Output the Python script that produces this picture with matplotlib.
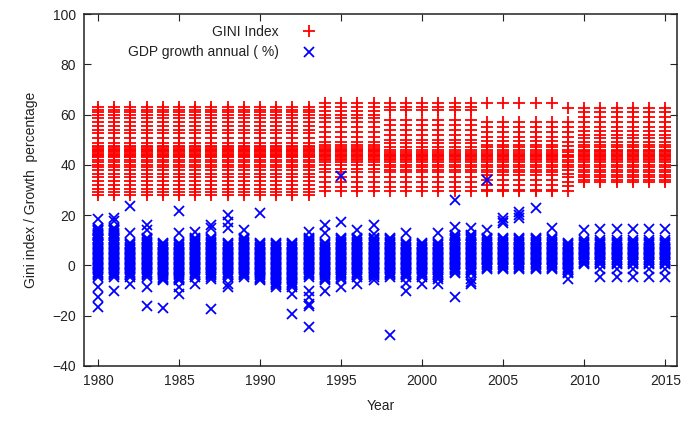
import matplotlib.pyplot as plt

plt.rcParams['font.family'] = ['Liberation Sans', 'DejaVu Sans']

years = list(range(1980, 2016))

# GINI index readings, grouped by periods whose country spread looks alike
gini_80s = [63, 62, 61, 60, 58.5, 57, 55.5, 54, 52.5, 50.5, 48.5, 47.5, 47,
            46.5, 46, 45.5, 45, 44.5, 44, 43.5, 43, 42, 41, 40, 39, 38, 36.5,
            35, 33.5, 32, 30.5, 29, 28]
gini_mid90s = [64.5, 63, 61.5, 60, 58.5, 57, 55, 53, 51, 49, 48, 47, 46.5,
               46, 45.5, 45, 44.5, 44, 43.5, 43, 42.5, 42, 41, 40, 38.5, 37,
               35, 33, 31, 29.5]
gini_late90s = [64.5, 63, 62, 58, 56, 54, 52, 50, 48.5, 47, 46, 45, 44.5, 44,
                43.5, 43, 42.5, 42, 41, 40, 39, 38, 37, 35, 33, 31, 29.5]
gini_2000s = [64.5, 57, 55, 53, 51, 49.5, 48, 47, 46, 45, 44.5, 44, 43.5, 43,
              42.5, 42, 41, 40, 39, 38, 37, 36, 34, 32, 30, 29.5]
gini_2009 = [62.5, 57, 55, 53, 51, 49, 47.5, 46, 45, 44, 43.5, 43, 42, 41, 40,
             39, 38, 36.5, 35, 33, 31.5, 29.5]
gini_2010s = [62.5, 61, 59, 57, 55, 53.5, 52, 50.5, 49, 48, 47, 46, 45.5, 45,
              44.5, 44, 43.5, 43, 42.5, 42, 41, 40, 39, 38, 37, 36, 35, 34, 33]

gini_by_year = ([gini_80s] * 14 + [gini_mid90s] * 4 + [gini_late90s] * 6 +
                [gini_2000s] * 5 + [gini_2009] + [gini_2010s] * 6)

# dense bulk of annual GDP growth (%) per year
band_a = [-4.5, -4, -3.5, -3, -2.5, -2, -1.5, -1, -0.5, 0, 0.5, 1, 1.5, 2,
          2.5, 3, 3.5, 4, 4.5, 5, 5.5, 6, 6.5, 7, 7.5, 8, 8.5, 9, 9.5, 10,
          10.5, 11, 11.5, 12, 12.5, 13, 13.5, 14, 14.5, 15]
band_b = [-4.5, -4, -3.5, -3, -2.5, -2, -1.5, -1, -0.5, 0, 0.5, 1, 1.5, 2,
          2.5, 3, 3.5, 4, 4.5, 5, 5.5, 6, 6.5, 7, 7.5, 8, 8.5, 9, 9.5, 10,
          10.5, 11]
band_c = [-4.5, -4, -3.5, -3, -2.5, -2, -1.5, -1, -0.5, 0, 0.5, 1, 1.5, 2,
          2.5, 3, 3.5, 4, 4.5, 5, 5.5, 6, 6.5, 7, 7.5, 8, 8.5, 9]
band_d = [-6, -5.5, -5, -4.5, -4, -3.5, -3, -2.5, -2, -1.5, -1, -0.5, 0,
          0.5, 1, 1.5, 2, 2.5, 3, 3.5, 4, 4.5, 5, 5.5, 6, 6.5, 7, 7.5, 8,
          8.5, 9]
band_e = [-8.5, -8, -7.5, -7, -6.5, -6, -5.5, -5, -4.5, -4, -3.5, -3, -2.5,
          -2, -1.5, -1, -0.5, 0, 0.5, 1, 1.5, 2, 2.5, 3, 3.5, 4, 4.5, 5, 5.5,
          6, 6.5, 7, 7.5, 8, 8.5, 9]
band_f = [-3, -2.5, -2, -1.5, -1, -0.5, 0, 0.5, 1, 1.5, 2, 2.5, 3, 3.5, 4,
          4.5, 5, 5.5, 6, 6.5, 7, 7.5, 8, 8.5, 9, 9.5, 10, 10.5, 11, 11.5, 12]
band_g = [-1.5, -1, -0.5, 0, 0.5, 1, 1.5, 2, 2.5, 3, 3.5, 4, 4.5, 5, 5.5, 6,
          6.5, 7, 7.5, 8, 8.5, 9, 9.5, 10, 10.5, 11]
band_h = [-3, -2.5, -2, -1.5, -1, -0.5, 0, 0.5, 1, 1.5, 2, 2.5, 3, 3.5, 4,
          4.5, 5, 5.5, 6, 6.5, 7, 7.5, 8, 8.5, 9]
band_i = [0.5, 1, 1.5, 2, 2.5, 3, 3.5, 4, 4.5, 5, 5.5, 6, 6.5, 7, 7.5, 8,
          8.5, 9, 9.5, 10]

gdp_band_by_year = [band_a, band_a, band_c, band_b, band_d, band_d, band_b,
                    band_b, band_c, band_b, band_d, band_e, band_e, band_b,
                    band_d, band_b, band_b, band_b, band_b, band_c, band_c,
                    band_c, band_f, band_f, band_g, band_g, band_g, band_g,
                    band_g, band_h, band_i, band_i, band_i, band_i, band_i,
                    band_i]

# stray growth values outside the bulk
gdp_extra_by_year = [
    [18.5, 14, 12, -8.7, -12.7, -16.5],   # 1980
    [19, 17.5, -10],                      # 1981
    [23.6, 12.7, -7.3],                   # 1982
    [16, 14, -8.7, -16],                  # 1983
    [-17],                                # 1984
    [21.7, 12.7, -8.7, -11.3],            # 1985
    [13.3, -7.3],                         # 1986
    [16, 14.7, -5.3, -17.3],              # 1987
    [20, 17.3, 14.7, -7.3, -8.7],         # 1988
    [14],                                 # 1989
    [21],                                 # 1990
    [],                                   # 1991
    [-11.3, -19.3],                       # 1992
    [13.3, -10, -12.7, -15.3, -16, -24.7],  # 1993
    [16, 12.7, -10],                      # 1994
    [35.5, 17.3, -5.3, -8.7],             # 1995
    [14, -7.3],                           # 1996
    [16, 12.5, -6],                       # 1997
    [-27.8],                              # 1998
    [12.7, -7, -10],                      # 1999
    [-7.3],                               # 2000
    [12.7, -5.3, -7.3],                   # 2001
    [26, 15.3, -12.7],                    # 2002
    [14.7, -5.5, -6.7, -7.3],             # 2003
    [33.8, 14],                           # 2004
    [18.7, 17.5, 16.7],                   # 2005
    [21.3, 20, 19],                       # 2006
    [22.7],                               # 2007
    [14.7],                               # 2008
    [-5.3],                               # 2009
    [14],                                 # 2010
    [14.3, -1.3, -4.7],                   # 2011
    [14.3, -1.3, -4.7],                   # 2012
    [14.3, -1.3, -4.7],                   # 2013
    [14.3, -1.3, -4.7],                   # 2014
    [14.3, -1.3, -4.7],                   # 2015
]

gini_x = [yr for yr, vals in zip(years, gini_by_year) for v in vals]
gini_y = [v for vals in gini_by_year for v in vals]

gdp_x, gdp_y = [], []
for yr, band, extra in zip(years, gdp_band_by_year, gdp_extra_by_year):
    for v in band + extra:
        gdp_x.append(yr)
        gdp_y.append(v)

fig = plt.figure(figsize=(6.94, 4.25), dpi=100)
ax = fig.add_axes([0.121, 0.139, 0.855, 0.828])

ax.plot(gini_x, gini_y, linestyle='none', marker='+', color='#ff0000',
        markersize=8.5, markeredgewidth=1.3, label='GINI Index')
ax.plot(gdp_x, gdp_y, linestyle='none', marker='x', color='#0000ff',
        markersize=7.5, markeredgewidth=1.3, label='GDP growth annual ( %)')

ax.set_xlim(1979.14, 2015.74)
ax.set_ylim(-40, 100)
ax.set_xticks(range(1980, 2016, 5))
ax.set_yticks(range(-40, 101, 20))
ax.tick_params(direction='in', top=True, right=True, length=5,
               labelsize=10, colors='#222222', pad=6)
for side in ax.spines.values():
    side.set_linewidth(1.1)
    side.set_color('#222222')

ax.set_xlabel('Year', fontsize=10, color='#222222', labelpad=8)
ax.set_ylabel('Gini index / Growth  percentage', fontsize=10,
              color='#222222', labelpad=10)

ax.legend(loc='upper left', bbox_to_anchor=(0.055, 1.0), frameon=False,
          markerfirst=False, fontsize=10, handletextpad=1.2,
          labelspacing=0.45, borderaxespad=0.4)
for t in ax.get_legend().get_texts():
    t.set_ha('right')
    t.set_color('#222222')

fig.savefig('out.png', dpi=100)
